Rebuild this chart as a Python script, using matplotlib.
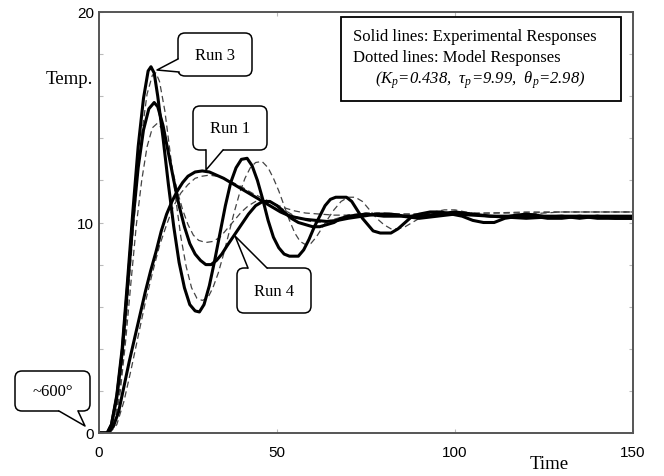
import matplotlib
matplotlib.use('Agg')
import matplotlib.pyplot as plt
import numpy as np
from matplotlib.patches import FancyBboxPatch, Polygon, Rectangle
from matplotlib.lines import Line2D
from matplotlib.transforms import Affine2D

# ---- data (time, temperature) ----
run3_t = [0, 2.3, 3.5, 5, 6.5, 8, 9.5, 11, 12.5, 13.8, 14.6, 15.5, 16.5, 18, 19.5, 21, 22.5, 24, 25.5, 27,
          28.2, 29.5, 31, 32.5, 34, 35.5, 37, 38.5, 40, 41.6, 43, 44.5, 46, 47.5, 49, 50.5, 52, 53.5, 56,
          57.5, 59, 60.5, 62, 63.5, 65, 66.5, 69.5, 71, 72.5, 74, 75.5, 77, 79, 82, 84, 86, 88, 90, 93, 96,
          99, 102, 105, 108, 111, 114, 118, 122, 126, 130, 135, 140, 145, 150]
run3_y = [0, 0, 0.4, 1.8, 4.0, 7.2, 10.5, 13.6, 15.9, 17.2, 17.4, 17.1, 16.0, 14.0, 11.8, 9.8, 8.1, 6.9, 6.1, 5.8,
          5.75, 6.1, 7.0, 8.2, 9.5, 10.8, 11.9, 12.6, 13.0, 13.05, 12.7, 12.0, 11.1, 10.1, 9.3, 8.8, 8.5, 8.4, 8.4,
          8.7, 9.2, 9.8, 10.3, 10.8, 11.1, 11.2, 11.2, 11.0, 10.6, 10.2, 9.9, 9.6, 9.5, 9.5, 9.7, 10.0, 10.3, 10.4, 10.5, 10.5,
          10.4, 10.3, 10.1, 10.0, 10.0, 10.2, 10.3, 10.3, 10.2, 10.2, 10.3, 10.2, 10.2, 10.2]

run4_t = [0, 2.3, 3.5, 5, 6.5, 8, 9.5, 11, 12.5, 14, 15.5, 16.5, 18, 19.5, 21, 22.5, 24, 25.5, 27, 28.5, 30,
          31.5, 33, 34.5, 36, 38, 40, 42, 44, 46, 48, 50, 52, 54, 56, 58, 60, 62, 64, 66, 68, 70, 75, 80, 85,
          90, 95, 100, 110, 120, 130, 140, 150]
run4_y = [0, 0, 0.4, 1.7, 3.8, 6.9, 10.0, 12.6, 14.4, 15.4, 15.7, 15.5, 14.6, 13.3, 12.0, 10.8, 9.8, 9.0, 8.5, 8.2, 8.0,
          8.0, 8.2, 8.5, 8.9, 9.4, 9.9, 10.4, 10.8, 11.0, 11.0, 10.8, 10.5, 10.2, 10.0, 9.9, 9.8, 9.8, 9.9, 10.0, 10.2, 10.3, 10.4, 10.3, 10.3,
          10.2, 10.3, 10.4, 10.3, 10.2, 10.3, 10.3, 10.3]

run1_t = [0, 2.5, 4, 5.5, 7, 8.5, 10, 11.5, 13, 14.5, 16, 17.5, 19, 20.5, 22, 23.5, 25, 27, 29, 31, 33, 35, 37,
          39, 41, 43, 45, 47, 49, 51, 53, 55, 58, 61, 64, 67, 70, 74, 78, 82, 86, 90, 95, 100, 105, 110, 115,
          120, 125, 130, 135, 140, 145, 150]
run1_y = [0, 0, 0.3, 1.0, 2.2, 3.4, 4.5, 5.6, 6.7, 7.7, 8.6, 9.6, 10.4, 11.0, 11.5, 11.9, 12.2, 12.4, 12.45, 12.4, 12.25, 12.1, 11.9,
          11.7, 11.5, 11.3, 11.1, 10.9, 10.7, 10.5, 10.35, 10.25, 10.15, 10.1, 10.05, 10.1, 10.2, 10.3, 10.4, 10.4, 10.3, 10.3, 10.4, 10.5, 10.4, 10.3, 10.3,
          10.4, 10.3, 10.3, 10.2, 10.3, 10.2, 10.2]

model3_t = [0, 3, 4.5, 6, 7.5, 9, 10.5, 12, 13.5, 15, 16, 17, 18.5, 20, 21.5, 23, 24.5, 26, 27.5, 29, 30.5, 32,
            33.5, 35, 36.5, 38, 39.5, 41, 42.5, 44, 45.8, 47.5, 49, 50.5, 52, 53.5, 55, 56.5, 58, 59.5, 61, 62.5,
            64, 66, 68, 70, 72, 74, 76, 78, 80, 82, 84, 86, 88, 91, 94, 97, 100, 103, 106, 110, 115, 120, 130, 140, 150]
model3_y = [0, 0, 0.6, 2.3, 5.0, 8.3, 11.5, 14.2, 16.1, 17.0, 17.1, 16.7, 15.3, 13.3, 11.2, 9.3, 7.9, 6.9, 6.4, 6.3, 6.4, 6.9,
            7.6, 8.5, 9.5, 10.5, 11.4, 12.1, 12.6, 12.85, 12.9, 12.6, 12.1, 11.5, 10.8, 10.1, 9.5, 9.1, 8.95, 9.0, 9.3, 9.7,
            10.1, 10.6, 11.0, 11.2, 11.2, 11.0, 10.6, 10.2, 9.9, 9.7, 9.7, 9.8, 10.0, 10.3, 10.5, 10.6, 10.6, 10.5, 10.4, 10.3, 10.3, 10.4, 10.5, 10.5, 10.5]

model4_t = [0, 3, 4.5, 6, 7.5, 9, 10.5, 12, 13.5, 15, 16.3, 17.5, 19, 20.5, 22, 23.5, 25, 26.5, 28, 30, 32, 34,
            36, 38, 40, 42, 44, 46, 48, 50, 52, 55, 58, 61, 64, 67, 70, 75, 80, 85, 90, 100, 110, 120, 130, 140, 150]
model4_y = [0, 0, 0.5, 2.0, 4.4, 7.2, 9.9, 12.0, 13.6, 14.5, 14.7, 14.5, 13.7, 12.6, 11.5, 10.6, 9.9, 9.4, 9.15, 9.05, 9.1, 9.3,
            9.7, 10.1, 10.5, 10.8, 11.0, 11.05, 11.0, 10.8, 10.6, 10.3, 10.1, 10.0, 10.05, 10.2, 10.35, 10.45, 10.45, 10.4, 10.4, 10.45, 10.45, 10.5, 10.5, 10.5, 10.5]

model1_t = [0, 3, 5, 7, 9, 11, 13, 15, 17, 19, 21, 23, 25, 27, 29, 31, 33, 35, 37, 40, 43, 46, 49, 52, 55, 58,
            62, 66, 70, 75, 80, 90, 100, 110, 120, 130, 140, 150]
model1_y = [0, 0, 0.4, 1.5, 3.0, 4.6, 6.2, 7.6, 8.9, 9.9, 10.8, 11.4, 11.8, 12.1, 12.2, 12.25, 12.2, 12.1, 11.95, 11.7, 11.4, 11.15, 10.9, 10.7, 10.55, 10.45,
            10.4, 10.35, 10.35, 10.4, 10.4, 10.4, 10.4, 10.45, 10.45, 10.5, 10.5, 10.5]

W, H = 664, 477
SERIF = 'Liberation Serif'
plt.rcParams['font.family'] = ['Liberation Sans', 'DejaVu Sans']
plt.rcParams['mathtext.fontset'] = 'custom'
plt.rcParams['mathtext.it'] = 'Liberation Serif:italic'
plt.rcParams['mathtext.rm'] = 'Liberation Serif'

fig = plt.figure(figsize=(W / 100, H / 100), dpi=100)
ax = fig.add_axes([99 / W, 1 - 434 / H, 534 / W, 421 / H])

for t, y in [(model3_t, model3_y), (model4_t, model4_y), (model1_t, model1_y)]:
    ax.plot(t, y, color='#444444', lw=0.9, ls=(0, (5, 3)))
for t, y in [(run3_t, run3_y), (run4_t, run4_y), (run1_t, run1_y)]:
    ax.plot(t, y, color='black', lw=2.2, solid_joinstyle='round')

ax.set_xlim(0, 150)
ax.set_ylim(0, 20)
ax.set_xticks([0, 50, 100, 150])
yt = np.arange(0, 21, 2)
ax.set_yticks(yt)
ax.set_yticklabels([str(v) if v % 10 == 0 else '' for v in yt])
ax.tick_params(direction='in', length=3, color='#bbbbbb', top=True, right=True, labelsize=11)
ax.tick_params(axis='x', pad=9)
for s in ax.spines.values():
    s.set_color('#555555')
    s.set_linewidth(1.4)

# pixel coordinates, y pointing down
pix = Affine2D().scale(1 / W, -1 / H).translate(0, 1) + fig.transFigure


def bubble(x0, y0, x1, y1, b1, tip, b2, inward, text):
    box = FancyBboxPatch((x0, y0), x1 - x0, y1 - y0, boxstyle='round,pad=0,rounding_size=7',
                         fc='white', ec='black', lw=1.1, transform=pix, zorder=3)
    fig.add_artist(box)
    dx, dy = inward
    poly = Polygon([(b1[0] + dx, b1[1] + dy), b1, tip, b2, (b2[0] + dx, b2[1] + dy)],
                   closed=True, fc='white', ec='none', transform=pix, zorder=4)
    fig.add_artist(poly)
    fig.add_artist(Line2D([b1[0], tip[0], b2[0]], [b1[1], tip[1], b2[1]], color='black', lw=1.1,
                          transform=pix, zorder=5))
    fig.text((x0 + x1) / 2 / W, 1 - (y0 + y1) / 2 / H, text, ha='center', va='center',
             family=SERIF, fontsize=12, zorder=6)


bubble(178, 34, 252, 77, (178, 60), (157, 71), (179, 73), (4, 0), 'Run 3')
bubble(193, 107, 267, 151, (206, 151), (206, 171), (223, 151), (0, -4), 'Run 1')
bubble(237, 269, 311, 314, (248, 269), (235, 237), (267, 269), (0, 4), 'Run 4')
bubble(15, 372, 90, 412, (59, 412), (85, 427), (78, 412), (0, -4), '~600°')

# legend box
fig.add_artist(Rectangle((341, 18), 280, 84, fc='white', ec='black', lw=1.3, transform=pix, zorder=3))
fig.text(353 / W, 1 - 37 / H, 'Solid lines: Experimental Responses', ha='left', va='center',
         family=SERIF, fontsize=12, zorder=6)
fig.text(353 / W, 1 - 58 / H, 'Dotted lines: Model Responses', ha='left', va='center',
         family=SERIF, fontsize=12, zorder=6)
fig.text(375 / W, 1 - 80 / H,
         r'($K_p$=0.438,  $\tau_p$=9.99,  $\theta_p$=2.98)',
         ha='left', va='center', family=SERIF, style='italic', fontsize=12, zorder=6)

fig.text(93 / W, 1 - 80 / H, 'Temp.', ha='right', va='center', family=SERIF, fontsize=13.5)
fig.text(549 / W, 1 - 465 / H, 'Time', ha='center', va='center', family=SERIF, fontsize=13.5)

fig.savefig('out.png', dpi=100)
